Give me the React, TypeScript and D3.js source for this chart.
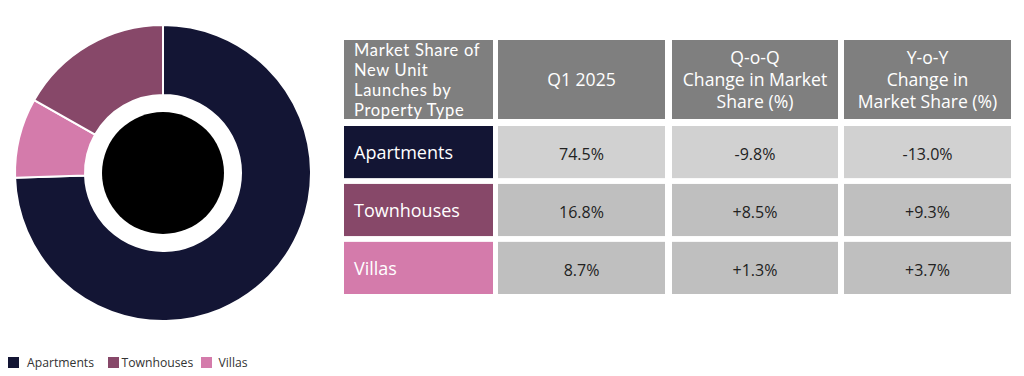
import React, { useEffect, useRef } from "react";
import * as d3 from "d3";

const categories = ["Apartments", "Townhouses", "Villas"];
const shareQ1 = [74.5, 16.8, 8.7];
const qoqChange = ["-9.8%", "+8.5%", "+1.3%"];
const yoyChange = ["-13.0%", "+9.3%", "+3.7%"];
const colors = ["#131534", "#874869", "#d47bab"];
const pieOrder = ["Apartments", "Villas", "Townhouses"];
const headers = [
  ["Market Share of", "New Unit", "Launches by", "Property Type"],
  ["Q1 2025"],
  ["Q-o-Q", "Change in Market", "Share (%)"],
  ["Y-o-Y", "Change in", "Market Share (%)"],
];

const FONT = "'Open Sans', sans-serif";

export default function App() {
  const ref = useRef<SVGSVGElement>(null);
  useEffect(() => {
    const svg = d3.select(ref.current);
    svg.selectAll("*").remove();

    // Donut
    const cx = 163, cy = 173, rOuter = 148, rInner = 78, rCore = 61;
    const data = pieOrder.map((name) => ({ name, value: shareQ1[categories.indexOf(name)], color: colors[categories.indexOf(name)] }));
    const pie = d3.pie<any>().sort(null).value((d) => d.value);
    const arc = d3.arc<any>().innerRadius(rInner).outerRadius(rOuter);
    const g = svg.append("g").attr("transform", `translate(${cx},${cy})`);
    g.selectAll("path")
      .data(pie(data))
      .join("path")
      .attr("d", arc)
      .attr("fill", (d) => d.data.color)
      .attr("stroke", "#fff")
      .attr("stroke-width", 2);
    g.append("circle").attr("r", rCore).attr("fill", "#000");

    // Legend
    const legendSq = [8, 108, 201];
    const legendTx = [27, 121.5, 218.5];
    const lg = svg.append("g");
    categories.forEach((c, i) => {
      lg.append("rect").attr("x", legendSq[i]).attr("y", 357).attr("width", 11).attr("height", 11).attr("fill", colors[i]);
      lg.append("text").attr("x", legendTx[i]).attr("y", 367).attr("font-family", FONT).attr("font-size", 12.2).attr("fill", "#333").text(c);
    });

    // Table
    const colX = [344, 498, 672, 844];
    const colW = [149, 167, 166, 167];
    const headerY = 40, headerH = 79;
    const rowY = d3.scaleBand<string>().domain(categories).range([126, 294]).paddingInner(0.1);
    const tg = svg.append("g");
    headers.forEach((lines, j) => {
      tg.append("rect").attr("x", colX[j]).attr("y", headerY).attr("width", colW[j]).attr("height", headerH).attr("fill", "#7f7f7f");
      if (j === 0) {
        lines.forEach((l, k) =>
          tg.append("text").attr("font-family", "Lato, sans-serif").attr("font-size", 16.5).attr("letter-spacing", 0.7).attr("fill", "#fff")
            .attr("x", colX[j] + 10).attr("y", 56 + k * 20).text(l));
      } else {
        const spacing = 21.8;
        const start = headerY + headerH / 2 + 6.5 - ((lines.length - 1) * spacing) / 2;
        lines.forEach((l, k) =>
          tg.append("text").attr("font-family", FONT).attr("font-size", 17.6).attr("fill", "#fff")
            .attr("x", colX[j] + colW[j] / 2).attr("y", start + k * spacing).attr("text-anchor", "middle").text(l));
      }
    });
    categories.forEach((c, i) => {
      const y = rowY(c)!;
      const h = rowY.bandwidth();
      const cellFill = i === 0 ? "#d1d1d1" : "#bfbfbf";
      tg.append("rect").attr("x", colX[0]).attr("y", y).attr("width", colW[0]).attr("height", h).attr("fill", colors[i]);
      tg.append("text").attr("x", colX[0] + 10).attr("y", y + h / 2 + 7).attr("font-family", FONT).attr("font-size", 18).attr("fill", "#fff").text(c);
      const vals = [shareQ1[i].toFixed(1) + "%", qoqChange[i], yoyChange[i]];
      vals.forEach((v, j) => {
        tg.append("rect").attr("x", colX[j + 1]).attr("y", y).attr("width", colW[j + 1]).attr("height", h).attr("fill", cellFill);
        tg.append("text").attr("x", colX[j + 1] + colW[j + 1] / 2).attr("y", y + h / 2 + 8).attr("text-anchor", "middle").attr("font-family", FONT).attr("font-size", 16).attr("fill", "#222").text(v);
      });
    });
  }, []);
  return (
    <svg ref={ref} width={1024} height={376} style={{ position: "absolute", left: 0, top: 0, background: "#fff" }} />
  );
}
